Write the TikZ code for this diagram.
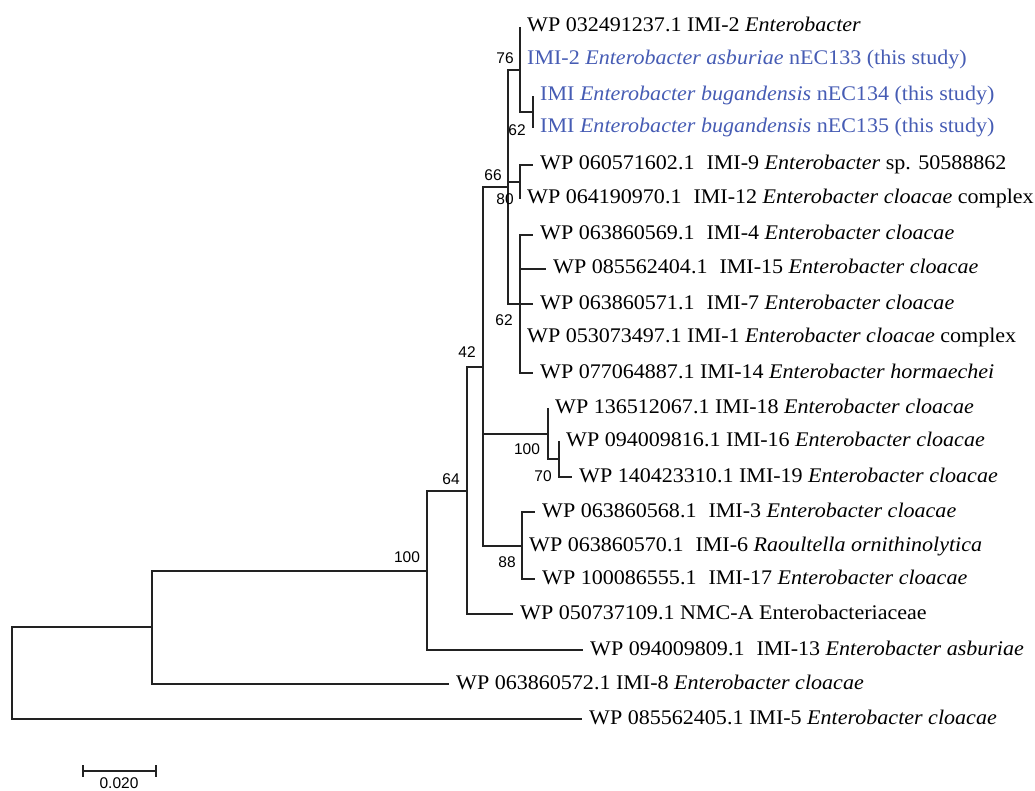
\documentclass[tikz,border=0pt]{standalone}
\usepackage{fontspec}
\setmainfont{Liberation Serif}[FakeStretch=1.06]
\newfontfamily\lblfont{Liberation Sans}
\definecolor{studyblue}{RGB}{70,92,180}
\definecolor{linegray}{RGB}{34,34,34}
\newcommand\dsp{\hspace{12pt}}
\begin{document}
\begin{tikzpicture}[x=1pt,y=-1pt,
  branch/.style={line width=1.3pt, draw=linegray},
  leaf/.style={anchor=west, inner xsep=7pt, inner ysep=0pt, text height=14pt, text depth=4pt, font=\fontsize{20.8}{24}\selectfont},
  study/.style={leaf, text=studyblue},
  boot/.style={font=\lblfont\fontsize{15.5}{17}\selectfont, inner sep=0pt}]
\useasboundingbox (0,0) rectangle (1035,791);
% internal nodes
\coordinate (root) at (12,673);
\coordinate (n100a) at (152,627);
\coordinate (n64) at (427,571);
\coordinate (n42p) at (467,491);
\coordinate (n42) at (483,367);
\coordinate (n66) at (508,187);
\coordinate (n76) at (520,70);
\coordinate (n62a) at (533,112);
\coordinate (n80) at (520,182);
\coordinate (n62b) at (520,304);
\coordinate (n100c) at (548,434);
\coordinate (n70) at (559,459);
\coordinate (n88) at (522,546);
% leaves
\node[leaf] (l1) at (520,27) {WP 032491237.1 IMI-2 \textit{Enterobacter}};
\node[study] (l2) at (520,60) {IMI-2 \textit{Enterobacter asburiae} nEC133 (this study)};
\node[study] (l3) at (533,96) {IMI \textit{Enterobacter bugandensis} nEC134 (this study)};
\node[study] (l4) at (533,128) {IMI \textit{Enterobacter bugandensis} nEC135 (this study)};
\node[leaf] (l5) at (533,165) {WP 060571602.1\dsp IMI-9 \textit{Enterobacter} sp. 50588862};
\node[leaf] (l6) at (520,199) {WP 064190970.1\dsp IMI-12 \textit{Enterobacter cloacae} complex};
\node[leaf] (l7) at (533,235) {WP 063860569.1\dsp IMI-4 \textit{Enterobacter cloacae}};
\node[leaf] (l8) at (546,269) {WP 085562404.1\dsp IMI-15 \textit{Enterobacter cloacae}};
\node[leaf] (l9) at (533,304) {WP 063860571.1\dsp IMI-7 \textit{Enterobacter cloacae}};
\node[leaf] (l10) at (520,337) {WP 053073497.1 IMI-1 \textit{Enterobacter cloacae} complex};
\node[leaf] (l11) at (533,373) {WP 077064887.1 IMI-14 \textit{Enterobacter hormaechei}};
\node[leaf] (l12) at (548,408) {WP 136512067.1 IMI-18 \textit{Enterobacter cloacae}};
\node[leaf] (l13) at (559,441) {WP 094009816.1 IMI-16 \textit{Enterobacter cloacae}};
\node[leaf] (l14) at (572,477) {WP 140423310.1 IMI-19 \textit{Enterobacter cloacae}};
\node[leaf] (l15) at (535,512) {WP 063860568.1\dsp IMI-3 \textit{Enterobacter cloacae}};
\node[leaf] (l16) at (522,546) {WP 063860570.1\dsp IMI-6 \textit{Raoultella ornithinolytica}};
\node[leaf] (l17) at (535,579) {WP 100086555.1\dsp IMI-17 \textit{Enterobacter cloacae}};
\node[leaf] (l18) at (513,614) {WP 050737109.1 NMC-A Enterobacteriaceae};
\node[leaf] (l19) at (583,650) {WP 094009809.1\dsp IMI-13 \textit{Enterobacter asburiae}};
\node[leaf] (l20) at (449,684) {WP 063860572.1 IMI-8 \textit{Enterobacter cloacae}};
\node[leaf] (l21) at (582,719) {WP 085562405.1 IMI-5 \textit{Enterobacter cloacae}};
% branches
\draw[branch] (root) |- (n100a);
\draw[branch] (root) |- (l21.west);
\draw[branch] (n100a) |- (n64);
\draw[branch] (n100a) |- (l20.west);
\draw[branch] (n64) |- (n42p);
\draw[branch] (n64) |- (l19.west);
\draw[branch] (n42p) |- (n42);
\draw[branch] (n42p) |- (l18.west);
\draw[branch] (n42) |- (n66);
\draw[branch] (n42) |- (n100c);
\draw[branch] (n42) |- (n88);
\draw[branch] (n66) |- (n76);
\draw[branch] (n66) |- (n80);
\draw[branch] (n66) |- (n62b);
\draw[branch] (n76) |- (l1.west);
\draw[branch] (n76) |- (l2.west);
\draw[branch] (n76) |- (n62a);
\draw[branch] (n62a) |- (l3.west);
\draw[branch] (n62a) |- (l4.west);
\draw[branch] (n80) |- (l5.west);
\draw[branch] (n80) |- (l6.west);
\draw[branch] (n62b) |- (l7.west);
\draw[branch] (n62b) |- (l8.west);
\draw[branch] (n62b) |- (l9.west);
\draw[branch] (n62b) |- (l10.west);
\draw[branch] (n62b) |- (l11.west);
\draw[branch] (n100c) |- (l12.west);
\draw[branch] (n100c) |- (n70);
\draw[branch] (n70) |- (l13.west);
\draw[branch] (n70) |- (l14.west);
\draw[branch] (n88) |- (l15.west);
\draw[branch] (n88) |- (l16.west);
\draw[branch] (n88) |- (l17.west);
% bootstrap values
\node[boot] (b76) at (505,58) {76};
\node[boot] (b62a) at (517,130) {62};
\node[boot] (b66) at (493,175) {66};
\node[boot] (b80) at (505,199) {80};
\node[boot] (b62b) at (504,320) {62};
\node[boot] (b42) at (467,352) {42};
\node[boot] (b100c) at (527,449) {100};
\node[boot] (b70) at (543,476) {70};
\node[boot] (b64) at (451,479) {64};
\node[boot] (b88) at (507,562) {88};
\node[boot] (b100b) at (407,557) {100};
% scale bar
\coordinate (sb1) at (83,771);
\coordinate (sb2) at (156,771);
\draw[branch] (sb1) -- (sb2);
\draw[branch] ([yshift=6pt]sb1) -- ([yshift=-6pt]sb1);
\draw[branch] ([yshift=6pt]sb2) -- ([yshift=-6pt]sb2);
\node[boot] (sbl) at (119,783) {0.020};
\end{tikzpicture}
\end{document}
